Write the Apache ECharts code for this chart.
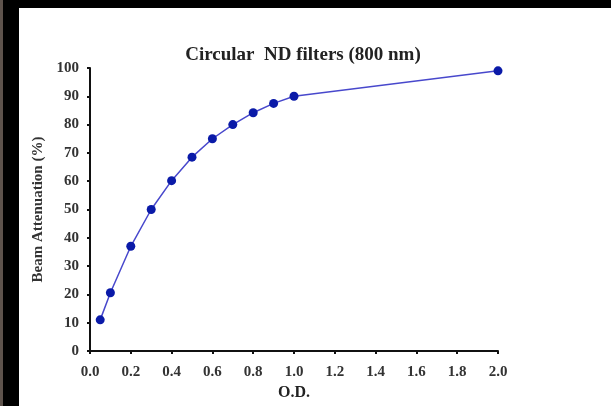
<!DOCTYPE html>
<html>
<head>
<meta charset="utf-8">
<style>
  html, body { margin: 0; padding: 0; background: #000; }
  #chart { width: 611px; height: 406px; }
</style>
<script src="https://cdn.jsdelivr.net/npm/echarts@6/dist/echarts.min.js"></script>
</head>
<body>
<div id="chart"></div>
<script>
// Optical density of each filter position and the measured attenuation (%)
const opticalDensity = [0.05, 0.1, 0.2, 0.3, 0.4, 0.5, 0.6, 0.7, 0.8, 0.9, 1.0, 2.0];
const attenuation = [11, 20.6, 37, 50, 60.2, 68.5, 75, 80, 84.2, 87.5, 90, 99];
const xTicks = ['0.0', '0.2', '0.4', '0.6', '0.8', '1.0', '1.2', '1.4', '1.6', '1.8', '2.0'];

const serif = '"Liberation Serif", "DejaVu Serif", serif';
const chart = echarts.init(document.getElementById('chart'));

chart.setOption({
  backgroundColor: '#000',
  animation: false,
  graphic: [
    { type: 'rect', z: -10, shape: { x: 19, y: 8, width: 592, height: 398 }, style: { fill: '#fff' } },
    { type: 'rect', z: -10, shape: { x: 0, y: 0, width: 3, height: 406 }, style: { fill: '#5e534c' } }
  ],
  title: {
    text: 'Circular  ND filters (800 nm)',
    left: 298,
    top: 41,
    textAlign: 'center',
    textStyle: { fontFamily: serif, fontSize: 19, fontWeight: 'bold', color: '#222' }
  },
  grid: { left: 90, right: 113, top: 68, bottom: 55 },
  xAxis: {
    type: 'value',
    min: 0, max: 2, interval: 0.2,
    name: 'O.D.',
    nameLocation: 'middle',
    nameGap: 29,
    nameTextStyle: { fontFamily: serif, fontSize: 16, fontWeight: 'bold', color: '#222' },
    axisLine: { show: true, lineStyle: { color: '#111', width: 2 } },
    axisTick: { show: true, length: 3, inside: false, lineStyle: { color: '#111', width: 2 } },
    axisLabel: {
      fontFamily: serif, fontSize: 15, fontWeight: 'bold', color: '#333', margin: 14,
      formatter: v => xTicks[Math.round(v / 0.2)]
    },
    splitLine: { show: false }
  },
  yAxis: {
    type: 'value',
    min: 0, max: 100, interval: 10,
    name: 'Beam Attenuation (%)',
    nameLocation: 'middle',
    nameGap: 42,
    nameTextStyle: { fontFamily: serif, fontSize: 15, fontWeight: 'bold', color: '#333' },
    axisLine: { show: true, lineStyle: { color: '#111', width: 2 } },
    axisTick: { show: true, length: 3, lineStyle: { color: '#111', width: 2 } },
    axisLabel: { fontFamily: serif, fontSize: 15, fontWeight: 'bold', color: '#333', margin: 11 },
    splitLine: { show: false }
  },
  series: [{
    type: 'line',
    data: opticalDensity.map((od, i) => [od, attenuation[i]]),
    symbol: 'circle',
    symbolSize: 9,
    lineStyle: { color: '#4848cc', width: 1.5 },
    itemStyle: { color: '#0a1aa8' }
  }]
});
</script>
</body>
</html>
